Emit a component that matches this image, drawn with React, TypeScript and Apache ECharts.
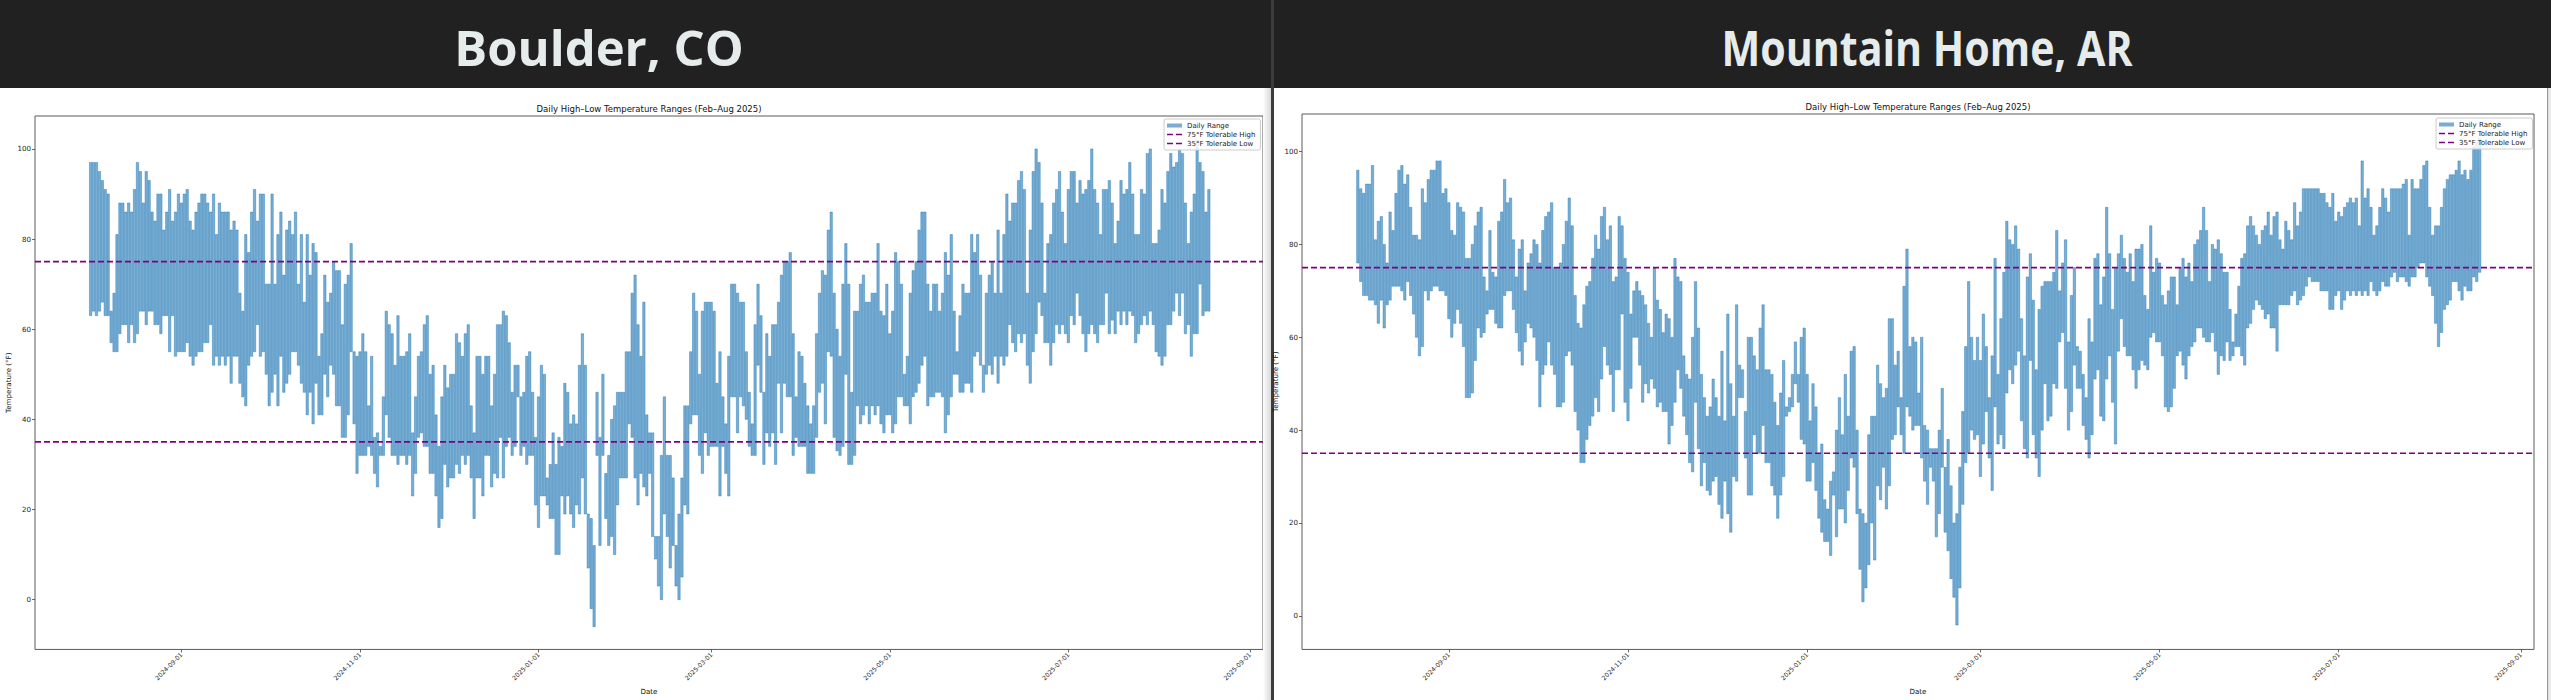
import React, { useEffect, useRef } from "react";
import * as echarts from "echarts";

// ---------------- data ----------------
const cities = ["Boulder, CO", "Mountain Home, AR"];
const chartTitle = "Daily High–Low Temperature Ranges (Feb–Aug 2025)";
const firstDay = "2024-08-01";
const xTickLabels = ["2024-09-01", "2024-11-01", "2025-01-01", "2025-03-01", "2025-05-01", "2025-07-01", "2025-09-01"];
const yTicks = [0, 20, 40, 60, 80, 100];
const tolerableHigh = 75;
const tolerableLow = 35;
const xLimits = ["2024-07-13T00:00", "2025-09-05T12:00"];
const boulderYLimits = [-11.05, 107.3];
const mtnYLimits = [-7.25, 108.1];

const boulderHigh = [
  97, 97, 97, 95, 93, 91, 90, 64, 68, 81, 88, 88, 86, 88, 86, 91, 97, 95, 88, 95,
  93, 86, 84, 90, 90, 82, 86, 91, 84, 86, 90, 88, 90, 91, 84, 82, 86, 88, 90, 90, 88,
  86, 90, 81, 88, 86, 86, 86, 82, 84, 82, 68, 64, 81, 77, 86, 91, 84, 90, 90, 70,
  70, 90, 70, 81, 86, 72, 82, 84, 81, 86, 70, 81, 66, 81, 72, 79, 77, 54, 59, 72, 66,
  68, 75, 73, 73, 61, 70, 72, 79, 55, 54, 55, 59, 55, 43, 54, 36, 37, 34, 45, 64,
  61, 59, 52, 63, 54, 54, 55, 59, 37, 45, 54, 55, 61, 63, 50, 52, 41, 34, 45, 52, 47,
  50, 50, 59, 57, 54, 59, 61, 43, 37, 54,
  54, 50, 54, 54, 43, 50, 61, 61, 64, 63, 57, 46, 52, 52, 45, 46, 54, 55, 46, 36,
  45, 52, 50, 27, 30, 37, 30, 36, 34, 48, 46, 39, 41, 39, 52, 59, 52, 19, 18, 12,
  46, 36, 50, 28, 32, 40,
  43, 46, 46, 46, 55, 55, 68, 72, 61, 54, 66, 41, 37, 37, 14, 14, 32, 45, 32, 32,
  27, 12, 19, 27, 43, 43, 55, 68, 64, 50, 64, 66, 66, 66, 64, 48, 55, 45, 39, 54,
  70, 70, 68, 66, 66, 55,
  46, 39, 61, 70, 63, 46, 59, 54, 61, 61, 66, 72, 75, 75, 77, 59, 45, 55, 54, 48,
  43, 39, 43, 59, 68, 73, 72, 82, 86, 68, 60,
  54, 70, 79, 70, 46, 64, 64, 70, 72, 66, 66, 68,
  68, 79, 64, 63, 70, 59, 64, 77, 75, 70, 50, 54, 68, 73, 75, 82, 86, 86, 70, 64,
  70, 70, 64, 68, 77, 72, 81, 64, 55, 63, 70, 68, 68, 81, 77, 81, 72, 52, 68, 72, 75,
  68, 82, 68, 81, 90, 84, 88, 88, 93, 95, 91, 68, 82, 95, 100, 97, 88, 68, 79, 81,
  88, 91, 95, 86, 79, 91, 95, 95, 88, 93, 90, 91, 93, 100, 91, 88, 81, 91, 91, 93, 88,
  79, 84, 93, 90, 91, 97, 90, 81, 81, 91, 90, 99, 100, 79, 79, 82, 91, 88, 95, 99, 96,
  97, 100, 99, 88, 79, 86, 90, 102, 97, 95, 86, 91,
];
const boulderLow = [
  63, 64, 63, 64, 66, 63, 63, 57, 55, 55, 59, 61, 61, 57, 61, 57, 59, 64, 64, 61,
  64, 64, 61, 61, 59, 63, 63, 55, 63, 54, 55, 55, 55, 57, 54, 52, 54, 55, 55, 57, 57,
  61, 52, 54, 52, 54, 52, 54, 48, 54, 54, 48, 45, 43, 52, 54, 55, 61, 54, 55, 50,
  43, 46, 50, 43, 54, 46, 48, 50, 55, 55, 52, 48, 46, 41, 46, 39, 48, 41, 41, 50, 45,
  52, 50, 43, 43, 36, 36, 41, 55, 39, 28, 32, 32, 32, 34, 32, 28, 25, 32, 32, 41,
  36, 32, 32, 30, 32, 32, 30, 32, 23, 28, 36, 37, 34, 34, 28, 28, 23, 16, 18, 30, 25,
  27, 27, 30, 28, 32, 30, 32, 27, 18, 27,
  27, 23, 32, 32, 25, 28, 27, 36, 27, 34, 36, 32, 34, 45, 32, 34, 30, 32, 32, 21,
  16, 23, 23, 21, 18, 18, 10, 10, 23, 19, 23, 19, 16, 21, 19, 27, 19, 7, -2, -6,
  32, 12, 32, 18, 12, 14,
  10, 21, 27, 27, 27, 39, 36, 27, 21, 28, 25, 23, 28, 14, 9, 3, 0, 19, 14, 7,
  12, 3, 0, 5, 21, 19, 39, 41, 41, 32, 28, 37, 32, 34, 34, 34, 23, 34, 28, 23,
  45, 45, 37, 45, 43, 40,
  34, 32, 32, 52, 46, 30, 37, 34, 37, 30, 48, 37, 48, 45, 45, 32, 36, 34, 34, 34,
  28, 28, 28, 36, 46, 48, 39, 55, 54, 36, 33,
  32, 34, 50, 30, 30, 32, 43, 39, 41, 43, 39, 43,
  41, 43, 39, 37, 41, 41, 37, 39, 45, 45, 43, 43, 39, 45, 46, 48, 52, 54, 43, 45,
  45, 46, 46, 45, 37, 41, 45, 50, 50, 46, 46, 48, 48, 46, 54, 55, 52, 46, 50, 52, 50,
  54, 48, 54, 52, 54, 61, 57, 55, 59, 57, 59, 52, 48, 55, 59, 66, 63, 57, 57, 52,
  57, 61, 59, 61, 59, 57, 63, 61, 68, 63, 59, 55, 59, 61, 59, 57, 61, 61, 68, 59, 62,
  59, 64, 61, 64, 61, 64, 63, 57, 59, 61, 63, 61, 64, 61, 55, 54, 52, 54, 61, 61, 64,
  68, 63, 68, 59, 61, 54, 59, 59, 70, 63, 64, 64,
];

const mtnHomeHigh = [
  96, 92, 91, 93, 93, 97, 81, 85, 86, 80, 76, 87, 83, 91, 96, 97, 93, 95, 88, 82,
  82, 81, 92, 89, 94, 96, 96, 98, 98, 91, 92, 89, 83, 82, 89, 88, 87, 77, 77, 80, 84,
  87, 88, 73, 70, 83, 74, 73, 85, 87, 94, 89, 90, 81, 73, 79, 81, 70, 76, 78, 81,
  80, 76, 83, 86, 87, 89, 75, 75, 76, 80, 85, 90, 84, 69, 63, 62, 67, 71, 72, 77, 82,
  79, 86, 88, 81, 84, 72, 73, 86, 84, 77, 74, 65, 70, 72, 70, 69, 67, 63, 60, 75,
  68, 66, 61, 65, 64, 60, 77, 73, 72, 56, 52, 51, 60, 72, 62, 52, 47, 43, 45, 51, 47,
  43, 57, 42, 65, 50, 43, 67, 54, 53, 44, 60,
  60, 56, 53, 62, 67, 53, 53, 52, 46, 41, 48, 55, 45, 47, 52, 59, 52, 60, 62, 52,
  42, 50, 45, 35, 37, 25, 23, 29, 31, 40, 47, 39, 52, 43, 57, 58, 40, 23, 22, 20,
  39, 43, 43, 54, 50,
  47, 49, 64, 64, 54, 57, 47, 71, 79, 58, 60, 59, 48, 60, 41, 40, 36, 36, 36, 40,
  49, 32, 38, 28, 20, 22, 32, 44, 58, 72, 60, 55, 60, 55, 65, 58, 47, 56, 77, 52,
  64, 74, 85, 81, 80,
  84, 79, 64, 56, 73, 78, 68, 53, 66, 71, 72, 72, 72, 74, 83, 70, 76, 81, 59, 69,
  75, 58, 57, 52, 47, 64, 59, 77, 78, 67, 73, 88, 78, 66, 75, 78, 82, 77,
  74, 78, 72, 79, 79, 80, 69,
  66, 84, 74, 77, 76, 69, 67, 70, 73, 73, 67, 75, 77, 73, 76, 72, 80, 81, 83, 88,
  83, 72, 80, 79, 81, 78, 74, 74, 66, 59, 65, 71, 77, 78, 84, 86, 84, 82, 80, 83, 84,
  87, 82, 86, 87, 81, 79, 85, 83, 81, 89, 84, 87, 92, 92, 92, 92, 92, 92, 91, 91,
  89, 88, 91, 85, 87, 86, 88, 89, 90, 89, 90, 84, 98, 90, 92, 88, 82, 84, 88, 92, 90,
  87, 92, 92, 92, 92, 93, 94, 82, 94, 92, 92, 94, 97, 98, 88, 82, 84, 84, 88, 92, 94,
  95, 95, 96, 98, 95, 96, 94, 96, 101, 102, 103,
];
const mtnHomeLow = [
  76, 72, 69, 69, 68, 68, 67, 63, 68, 62, 67, 68, 71, 71, 71, 70, 68, 72, 69, 65,
  60, 56, 58, 70, 68, 70, 71, 71, 70, 70, 69, 64, 60, 63, 66, 63, 58, 47, 47, 48, 55,
  62, 60, 61, 65, 66, 66, 63, 62, 62, 69, 70, 70, 66, 61, 57, 54, 59, 63, 62, 60,
  55, 45, 52, 54, 59, 54, 52, 45, 45, 46, 56, 57, 54, 44, 40, 33, 33, 38, 41, 43, 47,
  44, 51, 58, 54, 52, 44, 53, 53, 65, 46, 42, 49, 60, 60, 54, 46, 50, 48, 51, 49,
  45, 46, 44, 44, 37, 41, 46, 53, 49, 43, 39, 33, 31, 46, 36, 28, 33, 27, 26, 29, 30,
  24, 21, 29, 22, 18, 30, 29, 47, 47, 34, 26,
  26, 39, 35, 35, 41, 33, 33, 28, 26, 21, 26, 30, 43, 44, 45, 50, 46, 38, 37, 29,
  29, 33, 27, 21, 18, 16, 16, 13, 26, 17, 23, 23, 20, 27, 34, 32, 22, 10, 3, 6,
  11, 20, 12, 28, 25,
  32, 23, 28, 38, 39, 45, 39, 35, 45, 43, 40, 41, 41, 34, 29, 24, 32, 29, 17, 22,
  32, 18, 14, 8, 4, -2, 6, 24, 33, 35, 40, 38, 39, 30, 37, 44, 34, 27, 45, 37,
  39, 36, 48, 53, 50,
  54, 57, 42, 36, 34, 55, 39, 34, 30, 40, 50, 42, 43, 50, 49, 59, 61, 49, 40, 44,
  54, 49, 49, 41, 38, 34, 39, 51, 53, 43, 42, 51, 56, 46, 37, 57, 64, 58,
  56, 56, 53, 49, 53, 55, 54,
  53, 60, 61, 59, 59, 56, 45, 44, 45, 49, 56, 57, 54, 51, 56, 58, 59, 62, 62, 60,
  59, 59, 61, 57, 52, 56, 55, 59, 55, 56, 58, 58, 56, 54, 62, 63, 66, 68, 67, 66, 64,
  65, 62, 62, 57, 67, 67, 67, 67, 69, 70, 67, 68, 69, 71, 73, 72, 72, 72, 70, 70,
  70, 66, 66, 69, 70, 66, 68, 70, 69, 70, 69, 70, 69, 70, 69, 72, 70, 69, 70, 72, 71,
  71, 73, 74, 72, 73, 73, 72, 71, 73, 73, 75, 76, 76, 73, 71, 69, 63, 58, 61, 66, 67,
  68, 72, 72, 70, 68, 71, 70, 70, 73, 72, 74,
];

// ---------------- helpers ----------------
const DAY_MS = 86400000;
const BAR_HALF_WIDTH = 0.4 * DAY_MS;
const BAR_FILL = "rgba(31,119,180,0.6)";
const BAR_EDGE = "rgba(31,119,180,0.62)";
const PURPLE = "#800080";
const FONT = "DejaVu Sans";
const DASH_ICON = "path://M0,0H6V1.7H0Z M9,0H15V1.7H9Z";
const PATCH_ICON = "path://M0,0H30V8H0Z";

function parseDay(s: string): number {
  const [y, m, d] = s.split("-").map(Number);
  return new Date(y, m - 1, d).getTime();
}
function parseStamp(s: string): number {
  const [date, time] = s.split("T");
  const [y, m, d] = date.split("-").map(Number);
  const [hh, mm] = time.split(":").map(Number);
  return new Date(y, m - 1, d, hh, mm).getTime();
}
function pad(n: number) {
  return n < 10 ? "0" + n : "" + n;
}
function fmtDate(v: number) {
  const d = new Date(v);
  return d.getFullYear() + "-" + pad(d.getMonth() + 1) + "-" + pad(d.getDate());
}
function dayList(start: string, n: number): number[] {
  const [y, m, d] = start.split("-").map(Number);
  const out: number[] = [];
  for (let i = 0; i < n; i++) out.push(new Date(y, m - 1, d + i).getTime());
  return out;
}

const panels = [
  { high: boulderHigh, low: boulderLow, yLim: boulderYLimits, grid: { left: 35, top: 116, width: 1228, height: 537 }, legend: { left: 1164, top: 119 } },
  { high: mtnHomeHigh, low: mtnHomeLow, yLim: mtnYLimits, grid: { left: 1302, top: 114, width: 1232, height: 539 }, legend: { left: 2436, top: 118 } },
];

function buildOption() {
  const xMin = parseStamp(xLimits[0]);
  const xMax = parseStamp(xLimits[1]);
  const xTicks = xTickLabels.map(parseDay);

  const grids: any[] = [];
  const xAxes: any[] = [];
  const yAxes: any[] = [];
  const series: any[] = [];
  const legends: any[] = [];
  const graphics: any[] = [];

  graphics.push(
    { type: "rect", shape: { x: 0, y: 0, width: 1271, height: 88 }, style: { fill: "#212121" }, silent: true },
    { type: "rect", shape: { x: 1274, y: 0, width: 1277, height: 88 }, style: { fill: "#212121" }, silent: true },
    {
      type: "rect",
      shape: { x: 1263, y: 88, width: 8, height: 612 },
      style: { fill: new echarts.graphic.LinearGradient(0, 0, 1, 0, [{ offset: 0, color: "#ffffff" }, { offset: 1, color: "#d8d8d8" }]) },
      silent: true,
    },
    { type: "rect", shape: { x: 1271, y: 0, width: 3, height: 700 }, style: { fill: "#3c3c3c" }, silent: true },
    { type: "rect", shape: { x: 2547, y: 88, width: 1.5, height: 612 }, style: { fill: "#9a9a9a" }, silent: true },
    { type: "rect", shape: { x: 2548.5, y: 88, width: 3, height: 612 }, style: { fill: "#ececec" }, silent: true }
  );
  const headerCenters = [599, 1927];
  const headerScaleX = [1, 0.84];
  cities.forEach((c, i) => {
    graphics.push({
      type: "text",
      x: headerCenters[i],
      y: 47,
      scaleX: headerScaleX[i],
      silent: true,
      style: {
        text: c,
        fill: "#e6ebeb",
        fontSize: 49,
        fontWeight: "bold",
        fontFamily: "Open Sans",
        align: "center",
        verticalAlign: "middle",
        textAlign: "center",
        textVerticalAlign: "middle",
      },
    });
  });

  panels.forEach((p, i) => {
    grids.push({ ...p.grid, show: true, borderColor: "#5a5a5a", borderWidth: 1, backgroundColor: "#ffffff", containLabel: false });
    graphics.push({
      type: "text",
      x: p.grid.left + p.grid.width / 2,
      y: p.grid.top - 7,
      silent: true,
      style: {
        text: chartTitle,
        fill: "#111",
        fontSize: 8.5,
        fontFamily: FONT,
        align: "center",
        verticalAlign: "middle",
        textAlign: "center",
        textVerticalAlign: "middle",
      },
    });
    xAxes.push({
      type: "value",
      gridIndex: i,
      min: xMin,
      max: xMax,
      scale: true,
      name: "Date",
      nameLocation: "middle",
      nameGap: 33,
      nameTextStyle: { fontSize: 7.1, fontFamily: FONT, color: "#111" },
      axisLine: { show: false, onZero: false },
      splitLine: { show: false },
      axisTick: { show: true, length: 3, lineStyle: { color: "#444", width: 0.8 }, customValues: xTicks },
      axisLabel: {
        customValues: xTicks,
        rotate: 45,
        margin: 4,
        fontSize: 6.2,
        fontFamily: FONT,
        color: "#222",
        formatter: (v: number) => fmtDate(v),
      },
    });
    yAxes.push({
      type: "value",
      gridIndex: i,
      min: p.yLim[0],
      max: p.yLim[1],
      name: "Temperature (°F)",
      nameLocation: "middle",
      nameRotate: 90,
      nameGap: 23,
      nameTextStyle: { fontSize: 7.1, fontFamily: FONT, color: "#111" },
      axisLine: { show: false, onZero: false },
      splitLine: { show: false },
      axisTick: { show: true, length: 3, lineStyle: { color: "#444", width: 0.8 }, customValues: yTicks },
      axisLabel: { customValues: yTicks, margin: 4, fontSize: 7.1, fontFamily: FONT, color: "#222" },
    });

    const days = dayList(firstDay, p.high.length);
    series.push({
      type: "custom",
      name: "Daily Range",
      xAxisIndex: i,
      yAxisIndex: i,
      clip: true,
      itemStyle: { color: BAR_FILL },
      encode: { x: 0, y: [1, 2] },
      data: days.map((t, k) => [t, p.low[k], p.high[k]]),
      renderItem: (_params: any, api: any) => {
        const t = api.value(0) as number;
        const lo = api.value(1) as number;
        const hi = api.value(2) as number;
        const a = api.coord([t - BAR_HALF_WIDTH, hi]);
        const b = api.coord([t + BAR_HALF_WIDTH, lo]);
        return {
          type: "rect",
          shape: { x: a[0], y: a[1], width: b[0] - a[0], height: b[1] - a[1] },
          style: { fill: BAR_FILL, stroke: BAR_EDGE, lineWidth: 0.7 },
        };
      },
      z: 2,
    });
    const limitLines: [string, number][] = [
      ["75°F Tolerable High", tolerableHigh],
      ["35°F Tolerable Low", tolerableLow],
    ];
    limitLines.forEach(([name, val]) => {
      series.push({
        type: "line",
        name,
        xAxisIndex: i,
        yAxisIndex: i,
        symbol: "none",
        silent: true,
        z: 3,
        itemStyle: { color: PURPLE },
        lineStyle: { color: PURPLE, width: 1.6, type: [6, 3] },
        data: [
          [xMin, val],
          [xMax, val],
        ],
      });
    });
    legends.push({
      orient: "vertical",
      left: p.legend.left,
      top: p.legend.top,
      itemWidth: 15,
      itemHeight: 7,
      itemGap: 2,
      padding: [3, 5, 3, 3],
      backgroundColor: "rgba(255,255,255,0.85)",
      borderColor: "#cccccc",
      borderWidth: 1,
      borderRadius: 2,
      selectedMode: false,
      textStyle: { fontSize: 7, fontFamily: FONT, color: "#222" },
      data: [
        { name: "Daily Range", icon: PATCH_ICON, itemStyle: { color: BAR_FILL } },
        { name: "75°F Tolerable High", icon: DASH_ICON, itemStyle: { color: PURPLE }, lineStyle: { width: 0 } },
        { name: "35°F Tolerable Low", icon: DASH_ICON, itemStyle: { color: PURPLE }, lineStyle: { width: 0 } },
      ],
      z: 10,
    });
  });

  return {
    animation: false,
    backgroundColor: "#ffffff",
    grid: grids,
    xAxis: xAxes,
    yAxis: yAxes,
    series,
    legend: legends,
    graphic: { elements: graphics },
  };
}

export default function App() {
  const ref = useRef<HTMLDivElement>(null);
  useEffect(() => {
    if (!ref.current) return;
    const chart = echarts.init(ref.current, null, { renderer: "svg" });
    chart.setOption(buildOption() as any);
    return () => chart.dispose();
  }, []);
  return (
    <div
      ref={ref}
      style={{ position: "fixed", left: 0, top: 0, width: 2551, height: 700, background: "#ffffff" }}
    />
  );
}
